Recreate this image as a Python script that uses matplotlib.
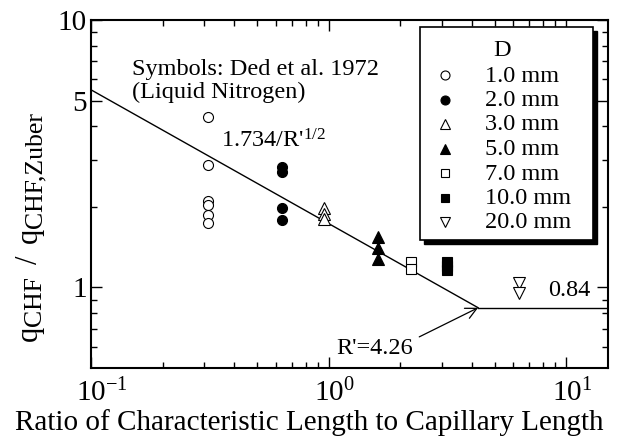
import numpy as np
import matplotlib
matplotlib.use("Agg")
import matplotlib.pyplot as plt
from matplotlib.ticker import FixedLocator, NullFormatter, FixedFormatter
from matplotlib.transforms import Affine2D, IdentityTransform
from matplotlib.patches import Rectangle
from matplotlib.lines import Line2D

plt.rcParams['font.family'] = ['Liberation Serif', 'DejaVu Serif']
plt.rcParams['mathtext.fontset'] = 'custom'
plt.rcParams['mathtext.rm'] = 'Liberation Serif'
plt.rcParams['mathtext.it'] = 'Liberation Serif:italic'

# ---- data ----
labels = ["1.0 mm", "2.0 mm", "3.0 mm", "5.0 mm", "7.0 mm", "10.0 mm", "20.0 mm"]
r_1mm = [0.31] * 6
q_1mm = [4.33, 2.86, 2.10, 2.03, 1.86, 1.74]
r_2mm = [0.635] * 4
q_2mm = [2.81, 2.70, 1.98, 1.78]
r_3mm = [0.953] * 3
q_3mm = [1.98, 1.88, 1.80]
r_5mm = [1.61] * 3
q_5mm = [1.54, 1.41, 1.28]
r_7mm = [2.23] * 2
q_7mm = [1.25, 1.17]
r_10mm = [3.16] * 3
q_10mm = [1.25, 1.20, 1.16]
r_20mm = [6.35] * 2
q_20mm = [1.035, 0.95]

coef = 1.734
r_crit = 4.26
q_flat = 0.84
x_min, x_max = 0.1, 15.0
y_min, y_max = 0.5, 10.0
xtick_vals = [0.1, 1, 10]
xtick_labels = [r'10$^{-1}$', r'10$^{0}$', r'10$^{1}$']
ytick_vals = [1, 5, 10]
ytick_labels = ['1', '5', '10']

W, H = 618, 437
fig = plt.figure(figsize=(W / 100, H / 100), dpi=100)
ax = fig.add_axes([91/W, 1-368/H, (608-91)/W, (368-20)/H])
ax.set_xscale('log')
ax.set_yscale('log')
ax.set_xlim(x_min, x_max)
ax.set_ylim(y_min, y_max)

# pixel (top-left origin) -> display transform, for layout of annotations
PX = Affine2D().scale(1, -1).translate(0, H)

# correlation line
xs = np.logspace(np.log10(x_min), np.log10(r_crit), 100)
ax.plot(xs, coef / np.sqrt(xs), color='black', lw=1.0)
ax.plot([r_crit, x_max], [q_flat, q_flat], color='black', lw=1.0)

styles = [
    dict(marker='o', mfc='white', mec='black', ms=7.2),
    dict(marker='o', mfc='black', mec='black', ms=7.2),
    dict(marker='^', mfc='white', mec='black', ms=8.5),
    dict(marker='^', mfc='black', mec='black', ms=8.5),
    dict(marker='s', mfc='white', mec='black', ms=7.0),
    dict(marker='s', mfc='black', mec='black', ms=7.0),
    dict(marker='v', mfc='white', mec='black', ms=8.5),
]
series = [(r_1mm, q_1mm), (r_2mm, q_2mm), (r_3mm, q_3mm), (r_5mm, q_5mm),
          (r_7mm, q_7mm), (r_10mm, q_10mm), (r_20mm, q_20mm)]
for (rx, qy), st, lab in zip(series, styles, labels):
    ax.plot(rx, qy, ls='none', mew=0.8, label=lab, **st)

# ticks
ax.xaxis.set_major_locator(FixedLocator(xtick_vals))
ax.xaxis.set_major_formatter(FixedFormatter(xtick_labels))
ax.xaxis.set_minor_locator(FixedLocator([m * d for d in (0.1, 1) for m in range(2, 10)]))
ax.xaxis.set_minor_formatter(NullFormatter())
ax.yaxis.set_major_locator(FixedLocator(ytick_vals))
ax.yaxis.set_major_formatter(FixedFormatter(ytick_labels))
ax.yaxis.set_minor_locator(FixedLocator([0.6, 0.7, 0.8, 0.9, 2, 3, 4, 6, 7, 8, 9]))
ax.yaxis.set_minor_formatter(NullFormatter())
ax.tick_params(which='both', direction='in', top=True, right=True, width=1.0)
ax.tick_params(which='major', length=8, labelsize=21)
ax.tick_params(axis='x', which='major', pad=8)
ax.tick_params(axis='y', which='major', pad=3)
ax.tick_params(which='minor', length=4)
for s in ax.spines.values():
    s.set_linewidth(1.5)

fs = 17.5
ax.text(132, 75, "Symbols: Ded et al. 1972", transform=PX,
        fontsize=fs, ha='left', va='baseline')
ax.text(132, 98, "(Liquid Nitrogen)", transform=PX,
        fontsize=fs, ha='left', va='baseline')
ax.text(221, 147, r"1.734/R'$^{1/2}$", transform=PX,
        fontsize=fs, ha='left', va='baseline')
ax.text(590, 296, "0.84", transform=PX,
        fontsize=fs, ha='right', va='baseline')
ax.annotate("R'=4.26", xy=(r_crit, q_flat), xycoords='data',
            xytext=(336, 354), textcoords=PX,
            fontsize=fs, ha='left', va='baseline',
            arrowprops=dict(arrowstyle='->', color='black', lw=0.9,
                            shrinkA=3, shrinkB=0, mutation_scale=20,
                            relpos=(1.0, 0.9)))

# legend box (drawn manually with drop shadow)
lx0, lx1, ly0, ly1 = 420, 593, 27, 240
sh = 4
fig.patches.append(Rectangle((lx0 + sh, H - ly1 - sh), lx1 - lx0, ly1 - ly0,
                             transform=IdentityTransform(), facecolor='black',
                             edgecolor='black', zorder=5))
fig.patches.append(Rectangle((lx0, H - ly1), lx1 - lx0, ly1 - ly0,
                             transform=IdentityTransform(), facecolor='white',
                             edgecolor='black', lw=1.2, zorder=6))
fig.text(502, 50, "D", transform=PX, fontsize=fs, ha='center', va='center', zorder=7)
for i, (st, lab) in enumerate(zip(styles, labels)):
    yy = 75 + 24.5 * i
    st2 = dict(st)
    st2['ms'] = st['ms'] * 0.9
    fig.lines.append(Line2D([445], [yy], transform=PX, ls='none', mew=0.8,
                            zorder=7, **st2))
    fig.text(485, yy + 1, lab, transform=PX, fontsize=fs, ha='left',
             va='center', zorder=7)

# y label built from pieces (rotated), subscripts lowered
renderer = fig.canvas.get_renderer()
main_fs, sub_fs = 22, 18.5
pieces = [("q", main_fs, 0), ("CHF", sub_fs, 4), (None, 12, 0), ("/", main_fs, 0),
          (None, 12, 0), ("q", main_fs, 0), ("CHF,Zuber", sub_fs, 4)]
x_base = 37
y_cur = H - 343 + 2
for s, size, shift in pieces:
    if s is None:
        y_cur += size
        continue
    t = fig.text(x_base + shift, y_cur, s, fontsize=size, rotation=90,
                 rotation_mode='anchor', ha='left', va='baseline',
                 transform=IdentityTransform())
    y_cur += t.get_window_extent(renderer).height

fig.text(309, H - 430, "Ratio of Characteristic Length to Capillary Length",
         transform=IdentityTransform(), ha='center', va='baseline', fontsize=21)

# center the "10" base of each x tick label on its tick (superscript hangs right)
fig.canvas.draw()
for lbl in ax.get_xticklabels():
    full = lbl.get_window_extent(renderer).width
    tmp = fig.text(0, 0, "10", fontsize=21)
    base = tmp.get_window_extent(renderer).width
    tmp.remove()
    dx = (full - base) / 2.0
    lbl.set_transform(lbl.get_transform() + Affine2D().translate(dx, 0))

fig.savefig("out.png", dpi=100)
